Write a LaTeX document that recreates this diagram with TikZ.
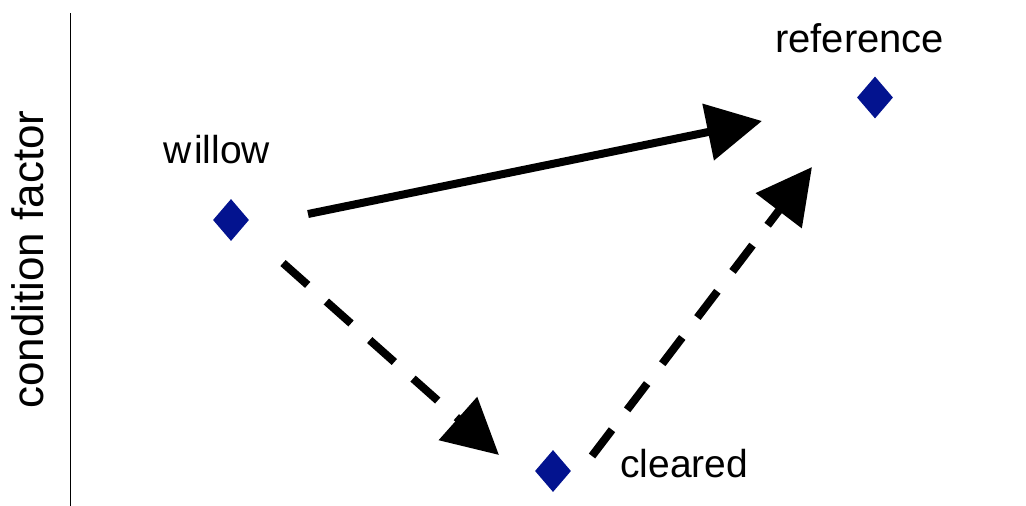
\documentclass[tikz,border=0pt]{standalone}
\usepackage{fontspec}
\setmainfont{Liberation Sans}
\usetikzlibrary{shapes.geometric,arrows.meta}
\definecolor{markblue}{RGB}{3,19,143}
\tikzset{
  marker/.style={diamond,fill=markblue,draw=none,inner sep=0pt,minimum width=36pt,minimum height=42pt},
  lbl/.style={anchor=base west,inner sep=0pt,font=\fontsize{39}{44}\selectfont},
  bigarrow/.style={line width=8pt,-{Triangle[length=55pt,width=56pt]}},
  dashedarrow/.style={bigarrow,dash pattern=on 33pt off 25pt}
}
\begin{document}
\begin{tikzpicture}[x=1pt,y=-1pt]
\useasboundingbox (0,0) rectangle (1026,506);
% axis
\coordinate (axtop) at (70,13);
\coordinate (axbot) at (70,506);
\draw[line width=1pt] (axtop) -- (axbot);
\node[anchor=base west,inner sep=0pt,rotate=90,font=\fontsize{44}{50}\selectfont] (ylab) at (43,409) {condition factor};
% markers
\node[marker] (willow) at (231,220) {};
\node[marker] (cleared) at (553,471) {};
\node[marker] (reference) at (875,97.5) {};
% labels
\node[lbl] (lw) at (163,163) {w\hspace{3pt}illow};
\node[lbl,font=\fontsize{40}{44}\selectfont] (lr) at (775,52) {reference};
\node[lbl] (lc) at (620,477) {cleared};
% connector ends
\coordinate (s1) at (308,214);
\coordinate (e1) at (762,121);
\coordinate (s2) at (283,263);
\coordinate (e2) at (499,455);
\coordinate (s3) at (592,456);
\coordinate (e3) at (812,167);
\draw[bigarrow] (s1) -- (e1);
\draw[dashedarrow] (s2) -- (e2);
\draw[dashedarrow] (s3) -- (e3);
\end{tikzpicture}
\end{document}
